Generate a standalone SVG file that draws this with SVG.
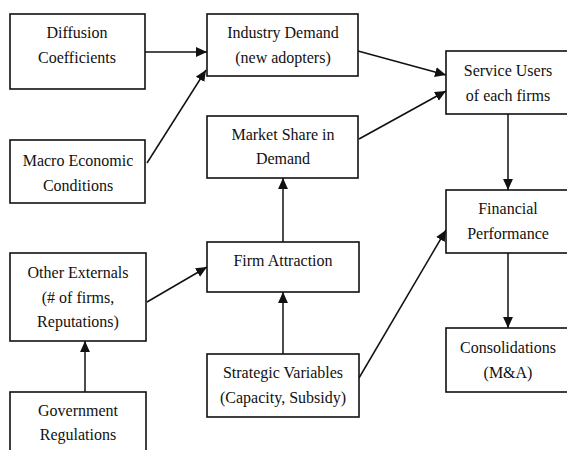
<svg xmlns="http://www.w3.org/2000/svg" width="567" height="450" viewBox="0 0 567 450">
<style>
.box{fill:#fff;stroke:#111;stroke-width:1.6}
.t{font-family:"Liberation Serif","Times New Roman",serif;font-size:16px;fill:#111;text-anchor:middle}
.c{stroke:#111;stroke-width:1.5;fill:none;marker-end:url(#ah)}
</style>
<defs>
<marker id="ah" viewBox="0 0 10 10" refX="10" refY="5" markerWidth="11" markerHeight="11" markerUnits="userSpaceOnUse" orient="auto">
<path d="M0,0.5 L10,5 L0,9.5 Z" fill="#111"/>
</marker>
</defs>
<rect width="567" height="450" fill="#fff"/>
<g id="connectors">
<line class="c" x1="145" y1="52" x2="207" y2="52"/>
<line class="c" x1="147" y1="163" x2="206" y2="70"/>
<line class="c" x1="358" y1="51" x2="446" y2="75"/>
<line class="c" x1="359" y1="139" x2="446" y2="91"/>
<line class="c" x1="283" y1="242" x2="283" y2="178"/>
<line class="c" x1="283" y1="354" x2="283" y2="292"/>
<line class="c" x1="147" y1="302" x2="207" y2="267"/>
<line class="c" x1="85" y1="392" x2="85" y2="341"/>
<line class="c" x1="359" y1="378" x2="446" y2="230"/>
<line class="c" x1="508" y1="114" x2="508" y2="190"/>
<line class="c" x1="508" y1="253" x2="508" y2="328"/>
</g>
<g id="diffusion">
<rect class="box" x="10" y="14" width="135" height="75"/>
<text class="t" x="77" y="38">Diffusion</text>
<text class="t" x="77" y="63">Coefficients</text>
</g>
<g id="industry">
<rect class="box" x="207" y="14" width="151" height="62"/>
<text class="t" x="283" y="38">Industry Demand</text>
<text class="t" x="283" y="63">(new adopters)</text>
</g>
<g id="macro">
<rect class="box" x="10" y="140" width="135" height="63"/>
<text class="t" x="78" y="166">Macro Economic</text>
<text class="t" x="78" y="191">Conditions</text>
</g>
<g id="market">
<rect class="box" x="207" y="116" width="151" height="62"/>
<text class="t" x="283" y="140">Market Share in</text>
<text class="t" x="283" y="164">Demand</text>
</g>
<g id="service">
<rect class="box" x="446" y="51" width="130" height="63"/>
<text class="t" x="508" y="76">Service Users</text>
<text class="t" x="508" y="101">of each firms</text>
</g>
<g id="financial">
<rect class="box" x="446" y="190" width="130" height="63"/>
<text class="t" x="508" y="214">Financial</text>
<text class="t" x="508" y="239">Performance</text>
</g>
<g id="consolidations">
<rect class="box" x="446" y="328" width="130" height="64"/>
<text class="t" x="508" y="353">Consolidations</text>
<text class="t" x="508" y="378">(M&amp;A)</text>
</g>
<g id="firm">
<rect class="box" x="207" y="242" width="152" height="50"/>
<text class="t" x="283" y="266">Firm Attraction</text>
</g>
<g id="strategic">
<rect class="box" x="207" y="354" width="152" height="63"/>
<text class="t" x="283" y="378">Strategic Variables</text>
<text class="t" x="283" y="403">(Capacity, Subsidy)</text>
</g>
<g id="other">
<rect class="box" x="10" y="253" width="136" height="88"/>
<text class="t" x="78" y="278">Other Externals</text>
<text class="t" x="78" y="303">(# of firms,</text>
<text class="t" x="78" y="327">Reputations)</text>
</g>
<g id="government">
<rect class="box" x="10" y="392" width="136" height="70"/>
<text class="t" x="78" y="416">Government</text>
<text class="t" x="78" y="440">Regulations</text>
</g>
</svg>
